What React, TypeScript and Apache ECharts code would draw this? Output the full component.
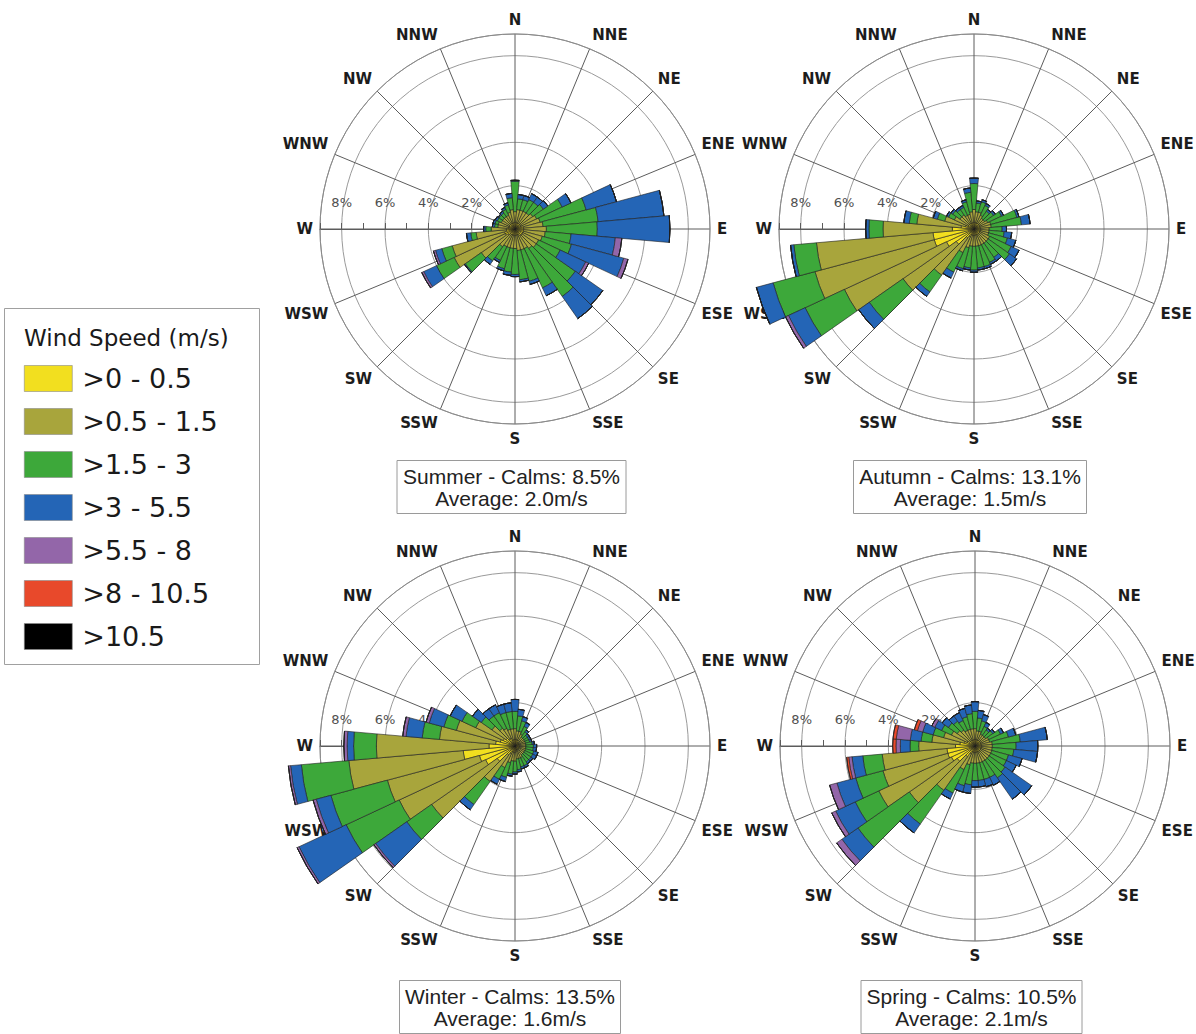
import React, { useEffect, useRef } from "react";
import * as echarts from "echarts";

// ---------- categories / labels ----------
const directionCategories = [
  "0", "10", "20", "30", "40", "50", "60", "70", "80", "90",
  "100", "110", "120", "130", "140", "150", "160", "170", "180", "190",
  "200", "210", "220", "230", "240", "250", "260", "270", "280", "290",
  "300", "310", "320", "330", "340", "350",
];
const compassPoints = ["N", "NNE", "NE", "ENE", "E", "ESE", "SE", "SSE", "S", "SSW", "SW", "WSW", "W", "WNW", "NW", "NNW"];
const speedClasses = [">0 - 0.5", ">0.5 - 1.5", ">1.5 - 3", ">3 - 5.5", ">5.5 - 8", ">8 - 10.5", ">10.5"];
const speedColors = ["#f2df1f", "#a8a53c", "#3da83a", "#2465b6", "#9366a9", "#e8492b", "#000000"];
const seasonNames = ["Summer", "Autumn", "Winter", "Spring"];
const calmsPercent = ["8.5%", "13.1%", "13.5%", "10.5%"];
const averageSpeed = ["2.0m/s", "1.5m/s", "1.6m/s", "2.1m/s"];
const ringMaxPercent = 9;
const legendTitle = "Wind Speed (m/s)";

// ---------- frequencies (% of time) per 10° sector, one array per speed class ----------
const noWind = [0,0,0,0,0,0,0,0,0,0, 0,0,0,0,0,0,0,0,0,0, 0,0,0,0,0,0,0,0,0,0, 0,0,0,0,0,0];

const summerBand1 = [0.3,0.3,0.3,0.3,0.3,0.3,0.3,0.3,0.4,0.4, 0.4,0.4,0.4,0.4,0.4,0.3,0.3,0.3,0.3,0.3, 0.3,0.3,0.3,0.4,0.5,0.5,0.4,0.4,0.3,0.3, 0.3,0.3,0.3,0.3,0.3,0.3];
const summerBand2 = [0.5,0.6,0.6,0.6,0.6,0.7,0.8,0.9,0.9,1.05, 1.0,0.9,0.8,0.8,0.7,0.7,0.7,0.7,0.6,0.6, 0.6,0.6,0.7,1.5,2.6,2.5,1.4,0.7,0.5,0.5, 0.4,0.4,0.4,0.4,0.5,0.6];
const summerBand3 = [1.4,0.5,0.5,0.6,0.6,0.6,1.3,2.2,2.55,2.35, 1.2,1.4,1.1,2.2,2.7,2.0,1.5,1.35,1.2,1.1, 1.0,0.7,0.8,0.9,0.9,0.5,0.25,0.25,0.15,0.15, 0.2,0.2,0.2,0.3,0.35,0.55];
const summerBand4 = [0.05,0.2,0.2,0.3,0.3,0.25,0.45,1.45,3.05,3.35, 2.05,2.5,1.3,1.55,1.25,0.4,0.15,0.1,0.1,0.15, 0.1,0.1,0.2,0.05,0.65,0.3,0.2,0.1,0.1,0.1, 0.1,0.05,0.1,0.1,0.1,0.2];
const summerBand5 = [0,0,0,0,0,0,0,0,0,0, 0.3,0.2,0.15,0,0,0,0,0,0,0, 0,0,0,0,0.1,0.1,0,0,0,0, 0,0,0,0,0,0];
const summerBand6 = noWind;
const summerBand7 = noWind;

const autumnBand1 = [0.3,0.3,0.3,0.3,0.3,0.3,0.3,0.3,0.3,0.3, 0.3,0.3,0.3,0.3,0.3,0.3,0.3,0.3,0.3,0.3, 0.3,0.4,0.5,1.0,1.4,1.9,1.9,1.0,0.6,0.4, 0.3,0.3,0.3,0.3,0.3,0.3];
const autumnBand2 = [0.6,0.5,0.5,0.4,0.3,0.3,0.4,0.5,0.5,0.4, 0.4,0.4,0.5,0.5,0.5,0.5,0.5,0.5,0.5,0.5, 0.6,0.8,2.1,3.0,5.2,5.7,5.4,3.2,2.05,1.0, 0.7,0.5,0.5,0.4,0.4,0.5];
const autumnBand3 = [1.2,0.4,0.5,0.5,0.4,0.5,0.7,1.25,1.4,0.6, 0.7,0.9,1.1,1.2,0.8,0.9,1.0,1.0,1.1,1.0, 1.0,1.0,0.95,1.9,2.0,2.0,1.05,0.65,0.35,0.35, 0.3,0.4,0.3,0.4,0.6,0.9];
const autumnBand4 = [0.25,0.1,0.1,0.1,0.1,0.1,0.1,0.1,0.4,0.2, 0.35,0.4,0.4,0.4,0.2,0.1,0.1,0.1,0.1,0.1, 0.1,0.3,0.25,0.6,0.85,0.8,0.15,0.15,0.25,0.2, 0.1,0.1,0.1,0.1,0.1,0.2];
const autumnBand5 = [0,0,0,0,0,0,0,0,0,0, 0,0,0,0,0,0,0,0,0,0, 0,0,0,0,0.15,0,0,0,0,0, 0,0,0,0,0,0];
const autumnBand6 = noWind;
const autumnBand7 = noWind;

const winterBand1 = [0.3,0.3,0.3,0.3,0.2,0.2,0.2,0.2,0.2,0.2, 0.2,0.2,0.2,0.2,0.2,0.2,0.2,0.2,0.3,0.3, 0.3,0.4,0.5,1.0,1.5,1.7,2.4,1.2,0.9,0.7, 0.6,0.5,0.4,0.4,0.3,0.3];
const winterBand2 = [0.5,0.4,0.4,0.3,0.3,0.3,0.3,0.3,0.3,0.3, 0.3,0.3,0.3,0.3,0.3,0.4,0.4,0.4,0.4,0.4, 0.5,0.7,1.5,3.7,4.4,4.4,5.3,5.2,2.6,2.1, 1.4,0.8,0.6,0.5,0.5,0.5];
const winterBand3 = [0.8,0.7,0.5,0.4,0.3,0.2,0.2,0.2,0.3,0.35, 0.35,0.4,0.4,0.4,0.4,0.4,0.4,0.5,0.5,0.6, 0.7,0.6,1.3,1.4,2.7,2.7,2.2,1.05,0.8,0.6, 0.7,0.6,0.7,0.8,0.8,0.8];
const winterBand4 = [0.55,0.3,0.2,0.2,0.1,0.1,0.1,0.1,0.1,0.15, 0.15,0.2,0.2,0.1,0.1,0.1,0.1,0.1,0.1,0.1, 0.2,0.25,0.3,1.75,2.4,0.7,0.5,0.3,0.75,0.7, 0.6,0.5,0.4,0.4,0.4,0.4];
const winterBand5 = [0,0,0,0,0,0,0,0,0,0, 0,0,0,0,0,0,0,0,0,0, 0,0,0,0.1,0.1,0.15,0.1,0.15,0.15,0.15, 0,0,0,0,0,0];
const winterBand6 = noWind;
const winterBand7 = noWind;

const springBand1 = [0.3,0.3,0.3,0.3,0.3,0.3,0.3,0.3,0.3,0.3, 0.3,0.3,0.3,0.3,0.3,0.3,0.3,0.3,0.3,0.3, 0.3,0.4,0.6,1.0,1.2,1.3,1.3,0.9,0.7,0.5, 0.4,0.3,0.3,0.3,0.3,0.3];
const springBand2 = [0.5,0.4,0.4,0.3,0.3,0.3,0.4,0.4,0.5,0.5, 0.5,0.5,0.5,0.5,0.5,0.5,0.5,0.5,0.5,0.5, 0.6,0.8,1.9,2.7,3.7,3.1,3.0,1.7,1.3,1.0, 0.8,0.7,0.6,0.5,0.5,0.5];
const springBand3 = [0.8,0.6,0.5,0.4,0.3,0.4,0.6,0.9,1.3,1.1, 1.0,0.8,0.8,0.9,1.0,0.8,0.8,0.8,0.8,1.0, 1.0,1.2,1.9,2.9,1.2,1.3,0.9,0.4,0.5,0.5, 0.5,0.5,0.5,0.5,0.6,0.7];
const springBand4 = [0.45,0.35,0.3,0.2,0.1,0.1,0.15,0.35,1.25,1.0, 1.1,0.65,0.5,1.5,1.2,0.4,0.35,0.3,0.3,0.4, 0.3,0.3,0.5,0.9,1.0,0.9,0.5,0.45,0.5,0.5, 0.35,0.35,0.3,0.4,0.4,0.4];
const springBand5 = [0,0,0,0,0,0,0,0,0,0, 0,0,0,0,0,0,0,0,0,0, 0,0,0,0.3,0.2,0.35,0.15,0.2,0.65,0.25, 0.15,0,0,0,0,0];
const springBand6 = [0,0,0,0,0,0,0,0,0,0, 0,0,0,0,0,0,0,0,0,0, 0,0,0,0,0,0,0.1,0.15,0.15,0.15, 0,0,0,0,0,0];
const springBand7 = noWind;

const summerBands = [summerBand1, summerBand2, summerBand3, summerBand4, summerBand5, summerBand6, summerBand7];
const autumnBands = [autumnBand1, autumnBand2, autumnBand3, autumnBand4, autumnBand5, autumnBand6, autumnBand7];
const winterBands = [winterBand1, winterBand2, winterBand3, winterBand4, winterBand5, winterBand6, winterBand7];
const springBands = [springBand1, springBand2, springBand3, springBand4, springBand5, springBand6, springBand7];
const seasonBands = [summerBands, autumnBands, winterBands, springBands];

export default function App() {
  const ref = useRef<HTMLDivElement | null>(null);

  useEffect(() => {
    if (!ref.current) return;
    const chart = echarts.init(ref.current, undefined, { renderer: "svg" });

    const roseCenters = [[515, 229], [974, 229], [515, 746], [975, 746]];
    const roseRadius = 195;
    const captionPos = [[505.5, 460], [964, 460], [504, 980], [965.5, 980]];

    const compassFormatter = (v: number) => {
      const idx = Math.round((((v + 270) % 360) + 360) % 360 / 22.5) % 16;
      return compassPoints[idx];
    };
    const radiusFormatter = (v: number) => {
      if (v >= ringMaxPercent) return "";
      if (v === 0) return "0";
      return v % 2 === 0 ? v + "%" : "";
    };

    const polar: any[] = [];
    const angleAxis: any[] = [];
    const radiusAxis: any[] = [];
    const series: any[] = [];

    roseCenters.forEach((c, i) => {
      polar.push({ center: c, radius: [0, roseRadius] });
      polar.push({ center: c, radius: [0, roseRadius] });

      angleAxis.push({
        polarIndex: 2 * i,
        type: "category",
        data: directionCategories,
        startAngle: 95,
        clockwise: true,
        boundaryGap: true,
        axisLine: { show: true, lineStyle: { color: "#8a8a8a", width: 1 } },
        axisTick: { show: false },
        axisLabel: { show: false },
        splitLine: { show: false },
        splitArea: { show: false },
      });
      angleAxis.push({
        polarIndex: 2 * i + 1,
        type: "value",
        min: 0,
        max: 360,
        interval: 22.5,
        startAngle: 180,
        clockwise: true,
        axisLine: { show: false },
        axisTick: { show: false },
        splitLine: { show: true, lineStyle: { color: "#5c5c5c", width: 1 } },
        splitArea: { show: false },
        axisLabel: {
          show: true,
          margin: 7,
          formatter: compassFormatter,
          color: "#1c1c1c",
          fontSize: 15,
          fontWeight: "bold",
          fontFamily: "DejaVu Sans",
        },
      });

      radiusAxis.push({
        polarIndex: 2 * i,
        type: "value",
        min: 0,
        max: ringMaxPercent,
        interval: 2,
        axisLine: { show: false },
        axisTick: { show: false },
        axisLabel: { show: false },
        splitLine: { show: true, lineStyle: { color: "#9a9a9a", width: 1 } },
      });
      radiusAxis.push({
        polarIndex: 2 * i + 1,
        type: "value",
        min: 0,
        max: ringMaxPercent,
        interval: 1,
        axisLine: { show: true, lineStyle: { color: "#5c5c5c", width: 1 } },
        axisTick: { show: true, length: -6, lineStyle: { color: "#5c5c5c" } },
        axisLabel: {
          show: true,
          margin: -27,
          verticalAlign: "middle",
          align: "center",
          formatter: radiusFormatter,
          color: "#505050",
          fontSize: 13,
          fontFamily: "DejaVu Sans",
        },
        splitLine: { show: false },
      });

      seasonBands[i].forEach((vals, k) => {
        series.push({
          type: "bar",
          name: speedClasses[k],
          coordinateSystem: "polar",
          polarIndex: 2 * i,
          stack: "rose" + i,
          data: vals,
          barCategoryGap: "0%",
          clip: false,
          silent: true,
          itemStyle: { color: speedColors[k], borderColor: "#1f1f1f", borderWidth: 0.6 },
          emphasis: { disabled: true },
        });
      });
    });

    const option: any = {
      animation: false,
      backgroundColor: "#ffffff",
      polar,
      angleAxis,
      radiusAxis,
      series,
      title: seasonNames.map((s, i) => ({
        text: `${s} - Calms: ${calmsPercent[i]}\nAverage: ${averageSpeed[i]}`,
        left: captionPos[i][0],
        top: captionPos[i][1],
        textAlign: "center",
        padding: [5, 6],
        borderColor: "#9a9a9a",
        borderWidth: 1,
        textStyle: {
          fontSize: 21,
          fontWeight: "normal",
          lineHeight: 22,
          color: "#222222",
          fontFamily: "Liberation Sans, Arial, sans-serif",
        },
      })),
      legend: {
        data: speedClasses,
        orient: "vertical",
        left: 24,
        top: 365,
        padding: 0,
        itemWidth: 48,
        itemHeight: 26,
        itemGap: 16,
        icon: "rect",
        selectedMode: false,
        itemStyle: { borderColor: "#8a8a8a", borderWidth: 0.6 },
        textStyle: {
          fontSize: 27,
          lineHeight: 26,
          color: "#1a1a1a",
          fontFamily: "DejaVu Sans",
          padding: [0, 0, 0, 5],
        },
      },
      graphic: [
        {
          type: "rect",
          silent: true,
          shape: { x: 4.5, y: 308.5, width: 255, height: 356 },
          style: { fill: "transparent", stroke: "#a0a0a0", lineWidth: 1 },
        },
        {
          type: "text",
          silent: true,
          left: 24,
          top: 326,
          style: { text: legendTitle, fontSize: 23, fill: "#1a1a1a", fontFamily: "DejaVu Sans" },
        },
      ],
    };

    chart.setOption(option);
    return () => chart.dispose();
  }, []);

  return (
    <div
      ref={ref}
      style={{ position: "absolute", left: 0, top: 0, width: 1196, height: 1034, background: "#fff" }}
    />
  );
}
